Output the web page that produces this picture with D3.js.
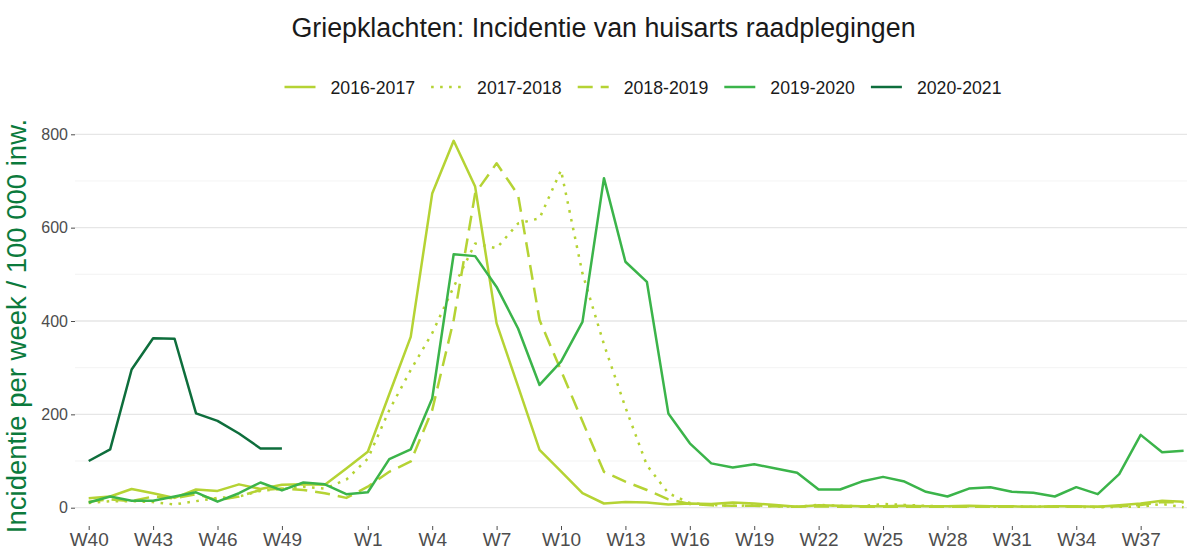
<!DOCTYPE html>
<html><head><meta charset="utf-8">
<script src="https://cdn.jsdelivr.net/npm/d3@7/dist/d3.min.js"></script>
<style>
body{margin:0;background:#fff}
svg{display:block}
text{font-family:"Liberation Sans",Arial,Helvetica,sans-serif}
</style>
</head><body>
<svg id="chart" width="1192" height="551"></svg>
<script>
// ---------- DATA ----------
const weeks = ["W40","W41","W42","W43","W44","W45","W46","W47","W48","W49","W50","W51","W52",
  "W1","W2","W3","W4","W5","W6","W7","W8","W9","W10","W11","W12","W13","W14","W15","W16","W17","W18","W19","W20",
  "W21","W22","W23","W24","W25","W26","W27","W28","W29","W30","W31","W32","W33","W34","W35","W36","W37","W38","W39"];
const tickWeeks = ["W40","W43","W46","W49","W1","W4","W7","W10","W13","W16","W19","W22","W25","W28","W31","W34","W37"];
const yTicks = [0,200,400,600,800];
const yMinor = [100,300,500,700];
const seriesNames = ["2016-2017","2017-2018","2018-2019","2019-2020","2020-2021"];

const s2016_2017 = [20,24,40,31,21,39,36,50,40,49,50,49,84,
  120,243,366,673,786,688,395,260,124,78,31,9,12,11,7,9,8,11,9,6,2,5,4,3,3,4,3,3,4,3,3,2,3,3,2,5,9,15,13];
const s2017_2018 = [10,14,14,12,7,14,21,24,36,40,45,41,60,
  105,209,295,374,473,566,556,609,620,723,502,350,215,91,31,10,6,4,5,3,2,6,4,3,8,6,4,3,3,2,3,2,3,2,1,2,2,8,1];
const s2018_2019 = [13,18,14,24,20,29,16,24,38,41,38,31,21,
  45,77,99,209,402,673,738,670,402,294,185,77,56,38,18,8,5,4,4,3,2,3,2,2,2,2,2,2,2,2,2,2,2,2,2,3,6,12,11];
const s2019_2020 = [11,24,15,15,24,33,13,31,54,37,54,50,29,
  33,104,125,234,543,539,473,384,263,313,398,706,527,484,202,138,95,86,93,84,75,39,39,56,66,56,34,24,41,44,34,32,24,44,29,72,156,119,122];
const s2020_2021 = [100,125,296,363,362,202,186,159,127,127];

const seriesValues = [s2016_2017, s2017_2018, s2018_2019, s2019_2020, s2020_2021];
const seriesColors = ["#b5d334","#b5d334","#b5d334","#3bb44a","#0e6e3c"];
const seriesDash = [null, "2.6,6.4", "15,8", null, null];

// ---------- LAYOUT ----------
const svg = d3.select("#chart");
const panel = {left:75, right:1187};
const x = d3.scalePoint().domain(weeks).range([88.7, 1183.6]);
const y = d3.scaleLinear().domain([0,800]).range([507.7, 134.3]);

// grid
svg.append("g").selectAll("line").data(yMinor).join("line")
  .attr("x1", panel.left).attr("x2", panel.right)
  .attr("y1", d=>y(d)).attr("y2", d=>y(d))
  .attr("stroke","#f0f0f0").attr("stroke-width",0.8);
svg.append("g").selectAll("line").data(yTicks).join("line")
  .attr("x1", panel.left).attr("x2", panel.right)
  .attr("y1", d=>y(d)).attr("y2", d=>y(d))
  .attr("stroke","#e6e6e6").attr("stroke-width",1.3);

// axes
const yAxis = svg.append("g").attr("transform",`translate(${panel.left},0)`)
  .call(d3.axisLeft(y).tickValues(yTicks).tickSize(4).tickPadding(3));
yAxis.select(".domain").remove();
yAxis.selectAll("line").attr("stroke","#4d4d4d").attr("stroke-width",1);
yAxis.selectAll("text").attr("font-size","16px").attr("fill","#4d4d4d")
  .style("font-family",'"Liberation Sans",Arial,sans-serif');

const xAxis = svg.append("g").attr("transform","translate(0,526)")
  .call(d3.axisBottom(x).tickValues(tickWeeks).tickSize(4).tickPadding(3));
xAxis.select(".domain").remove();
xAxis.selectAll("line").attr("stroke","#4d4d4d").attr("stroke-width",1);
xAxis.selectAll("text").attr("font-size","19px").attr("fill","#4d4d4d")
  .style("font-family",'"Liberation Sans",Arial,sans-serif');

// lines
const line = d3.line()
  .defined(d => d.v != null)
  .x(d => x(d.w)).y(d => y(d.v));
seriesValues.forEach((vals, i) => {
  const pts = weeks.map((w, j) => ({w, v: j < vals.length ? vals[j] : null}));
  const p = svg.append("path").datum(pts)
    .attr("d", line).attr("fill","none")
    .attr("stroke", seriesColors[i]).attr("stroke-width",2.5)
    .attr("stroke-linejoin","round");
  if (seriesDash[i]) p.attr("stroke-dasharray", seriesDash[i]);
});

// title
svg.append("text").attr("x",603.5).attr("y",37)
  .attr("text-anchor","middle").attr("font-size","26.8px").attr("fill","#1a1a1a")
  .text("Griepklachten: Incidentie van huisarts raadplegingen");

// y axis title
svg.append("text")
  .attr("transform","translate(26,326) rotate(-90)")
  .attr("text-anchor","middle").attr("font-size","27.5px").attr("fill","#0b7a3c")
  .text("Incidentie per week / 100 000 inw.");

// legend
const lg = svg.append("g");
seriesNames.forEach((name, i) => {
  const x0 = 284.5 + 146.6 * i;
  const l = lg.append("line").attr("x1", x0).attr("x2", x0 + 31)
    .attr("y1", 87).attr("y2", 87)
    .attr("stroke", seriesColors[i]).attr("stroke-width", 2.5);
  if (seriesDash[i]) l.attr("stroke-dasharray", seriesDash[i]);
  lg.append("text").attr("x", x0 + 46).attr("y", 93.5)
    .attr("font-size","17.7px").attr("fill","#1a1a1a").text(name);
});
</script>
</body></html>
